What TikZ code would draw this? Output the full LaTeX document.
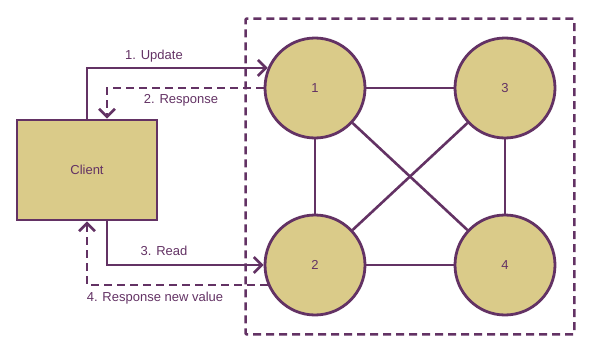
\documentclass[tikz,border=0pt]{standalone}
\usepackage{fontspec}
\setmainfont{Liberation Sans}
\definecolor{plum}{RGB}{99,50,100}
\definecolor{sand}{RGB}{218,203,137}
\usetikzlibrary{arrows.meta,positioning,fit,calc}

\begin{document}
\begin{tikzpicture}[x=1pt, y=-1pt, font=\fontsize{13}{15}\selectfont, text=plum,
    client/.style={draw=plum, fill=sand, line width=2.8pt, minimum width=140pt, minimum height=100pt},
    server/.style={circle, draw=plum, fill=sand, line width=2.8pt, minimum size=100pt, inner sep=0pt},
    cluster/.style={draw=plum, line width=2.5pt, dash pattern=on 8pt off 5pt, rounded corners=1pt},
    link/.style={draw=plum, line width=2.6pt},
    request/.style={draw=plum, line width=2.6pt, -{Straight Barb[length=8pt,width=16pt]}},
    reply/.style={request, dash pattern=on 8pt off 5pt}]
    \useasboundingbox (0,0) rectangle (595,348);

    % replica group
    \node[server] (n1) at (315,88) {1};
    \node[server] (n3) at (505,88) {3};
    \node[server] (n2) at (315,265) {2};
    \node[server] (n4) at (505,265) {4};
    \node[cluster, inner sep=18pt, fit=(n1)(n2)(n3)(n4)] (group) {};

    \draw[link] (n1) -- (n3);
    \draw[link] (n1) -- (n2);
    \draw[link] (n3) -- (n4);
    \draw[link] (n2) -- (n4);
    \draw[link] (n1) -- (n4);
    \draw[link] (n2) -- (n3);

    \node[client] (client) at (87,170) {Client};

    % write, then read
    \draw[request] (client.north) |- (n1.157);
    \draw[reply] (n1.west) -| ([xshift=20pt]client.north);
    \draw[request] ([xshift=20pt]client.south) |- (n2.west);
    \draw[reply] (n2.203) -| (client.south);

    \node at (154,56) {1. Update};
    \node at (181,100) {2. Response};
    \node at (164,251) {3. Read};
    \node at (155,298) {4. Response new value};
  \end{tikzpicture}
\end{document}
